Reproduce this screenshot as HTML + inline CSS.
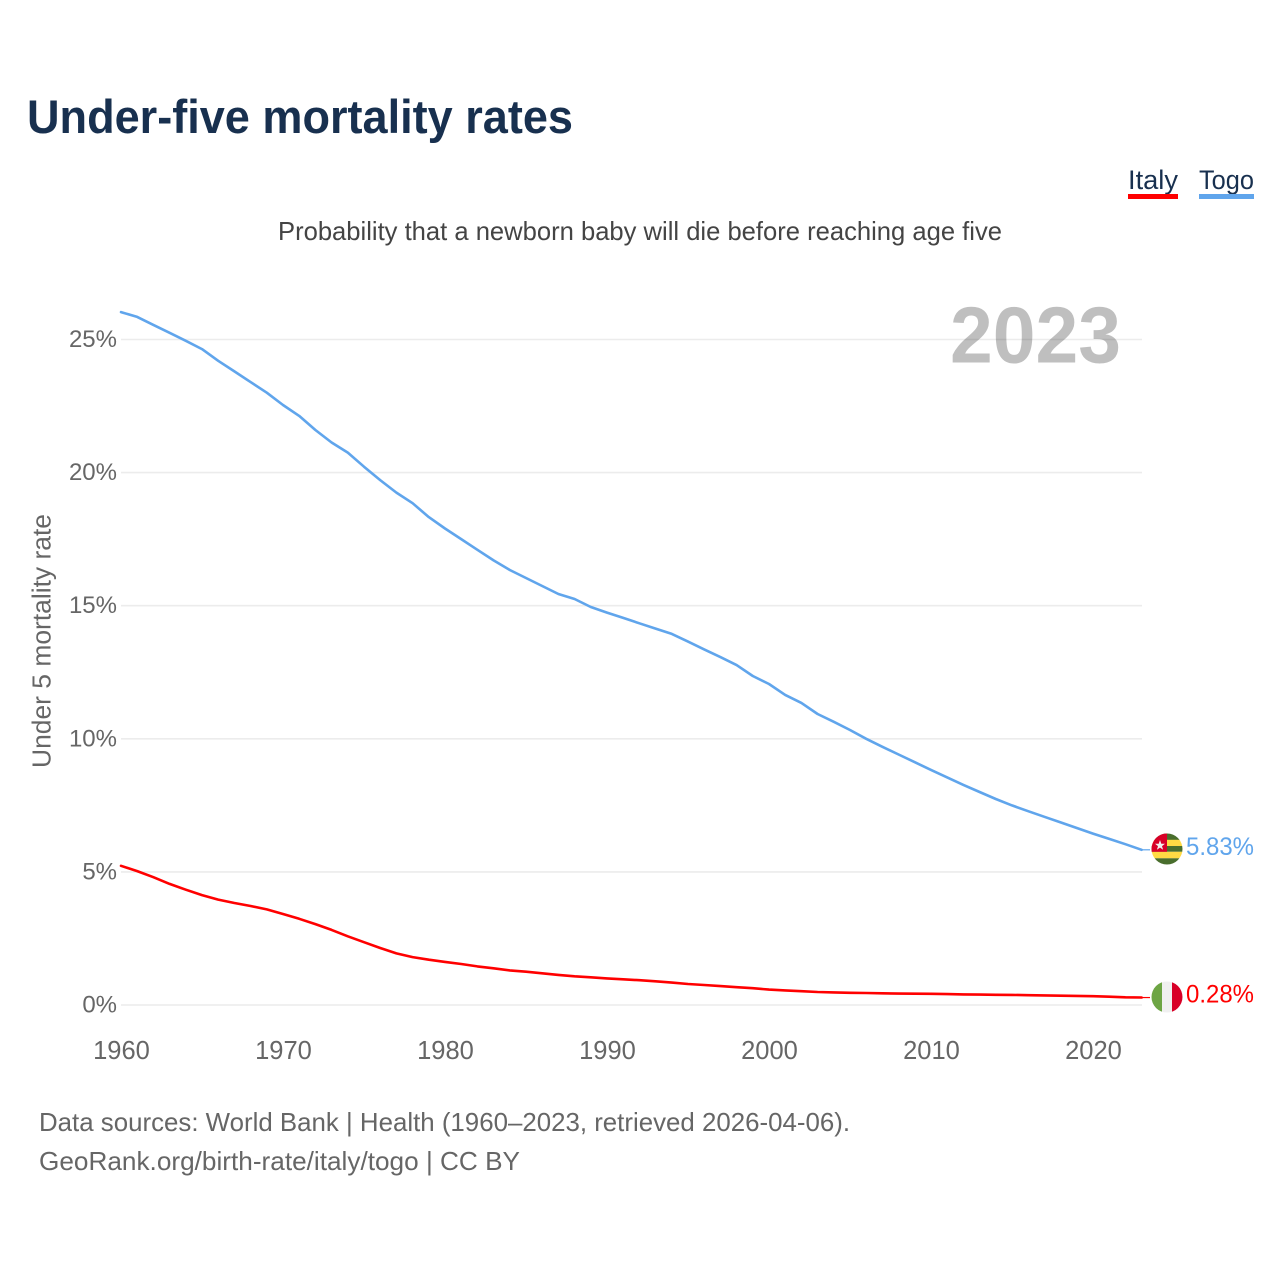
<!DOCTYPE html>
<html lang="en">
<head>
<meta charset="utf-8">
<title>Under-five mortality rates</title>
<style>
html,body{margin:0;padding:0;background:#fff;}
svg{display:block;font-family:"Liberation Sans",sans-serif;}
</style>
</head>
<body>
<svg id="chart" width="1280" height="1280" viewBox="0 0 1280 1280" xmlns="http://www.w3.org/2000/svg">
  <defs>
    <clipPath id="flag-clip-togo"><circle cx="1167" cy="849" r="15.5"></circle></clipPath>
    <clipPath id="flag-clip-italy"><circle cx="1167" cy="997" r="15.5"></circle></clipPath>
  </defs>
  <rect x="0" y="0" width="1280" height="1280" fill="#ffffff"></rect>
  <text x="27" y="133" font-size="47" font-weight="700" fill="#18304f" textLength="546" lengthAdjust="spacingAndGlyphs">Under-five mortality rates</text>
  <text x="278" y="240" font-size="26" fill="#444444" textLength="724" lengthAdjust="spacingAndGlyphs">Probability that a newborn baby will die before reaching age five</text>

  <g>
    <g>
      <text x="1128" y="189" font-size="27" fill="#18304f" textLength="50" lengthAdjust="spacingAndGlyphs">Italy</text>
      <rect x="1128" y="194" width="50" height="5" fill="#ff0000"></rect>
    </g>
    <g>
      <text x="1199" y="189" font-size="27" fill="#18304f" textLength="55" lengthAdjust="spacingAndGlyphs">Togo</text>
      <rect x="1199" y="194" width="55" height="5" fill="#60a5ec"></rect>
    </g>
  </g>

  <g id="grid"></g>
  <text x="950" y="362.5" font-size="80" font-weight="700" fill="#000000" fill-opacity="0.25" textLength="171" lengthAdjust="spacingAndGlyphs">2023</text>
  <g id="yticks"></g>
  <g id="xticks"></g>
  <text transform="translate(50.5,768) rotate(-90)" font-size="25.5" fill="#666666" textLength="254" lengthAdjust="spacingAndGlyphs">Under 5 mortality rate</text>
  <g id="series"></g>

  <g clip-path="url(#flag-clip-togo)">
    <rect x="1151" y="833" width="32" height="7" fill="#496e2d"></rect>
    <rect x="1151" y="839.8" width="32" height="6.2" fill="#ffda44"></rect>
    <rect x="1151" y="846" width="32" height="5.8" fill="#496e2d"></rect>
    <rect x="1151" y="851.8" width="32" height="6.5" fill="#ffda44"></rect>
    <rect x="1151" y="858.3" width="32" height="7" fill="#496e2d"></rect>
    <rect x="1151" y="833" width="16" height="18.8" fill="#d80027"></rect>
    <polygon points="1160,840 1161.3,843.8 1165,843.8 1162,846.1 1163.1,849.8 1160,847.6 1156.9,849.8 1158,846.1 1155,843.8 1158.7,843.8" fill="#f0f0f0"></polygon>
  </g>
  <g clip-path="url(#flag-clip-italy)">
    <rect x="1151" y="981" width="11" height="32" fill="#6da544"></rect>
    <rect x="1162" y="981" width="10" height="32" fill="#f0f0f0"></rect>
    <rect x="1172" y="981" width="11" height="32" fill="#d80027"></rect>
  </g>

  <g id="end-labels"></g>

  <text x="39" y="1131" font-size="26" fill="#666666" textLength="811" lengthAdjust="spacingAndGlyphs">Data sources: World Bank | Health (1960–2023, retrieved 2026-04-06).</text>
  <text x="39" y="1170" font-size="26" fill="#666666" textLength="481" lengthAdjust="spacingAndGlyphs">GeoRank.org/birth-rate/italy/togo | CC BY</text>
</svg>
<script>
const startYear = 1960;
const yTickValues = [0, 5, 10, 15, 20, 25];
const xTickYears = [1960, 1970, 1980, 1990, 2000, 2010, 2020];
const togoValues = [
  26.03, 25.85, 25.55, 25.25, 24.95, 24.64, 24.2, 23.8, 23.4, 23.0,
  22.54, 22.13, 21.6, 21.13, 20.75, 20.22, 19.72, 19.25, 18.85, 18.33,
  17.9, 17.5, 17.1, 16.7, 16.34, 16.04, 15.74, 15.44, 15.25, 14.95,
  14.74, 14.54, 14.34, 14.14, 13.94, 13.65, 13.36, 13.07, 12.77, 12.36,
  12.06, 11.65, 11.35, 10.93, 10.64, 10.33, 10.0, 9.7, 9.41, 9.12,
  8.83, 8.55, 8.27, 8.0, 7.74, 7.5, 7.28, 7.07, 6.86, 6.65,
  6.44, 6.24, 6.04, 5.83
];
const italyValues = [
  5.23, 5.03, 4.8, 4.55, 4.33, 4.13, 3.96, 3.83, 3.72, 3.59,
  3.42, 3.24, 3.04, 2.82, 2.58, 2.36, 2.14, 1.94, 1.8, 1.7,
  1.62, 1.54, 1.45, 1.38, 1.3, 1.25, 1.19, 1.13, 1.08, 1.04,
  1.0, 0.965, 0.93, 0.89, 0.84, 0.79, 0.75, 0.71, 0.67, 0.63,
  0.58, 0.55, 0.52, 0.49, 0.475, 0.46, 0.45, 0.44, 0.43, 0.425,
  0.42, 0.41, 0.4, 0.39, 0.385, 0.38, 0.37, 0.36, 0.35, 0.34,
  0.33, 0.31, 0.29, 0.28
];

const svgNS = 'http://www.w3.org/2000/svg';
function xScale(year) { return 121 + (year - 1960) * 16.2; }
function yScale(value) { return 1005 - value * 26.62; }
function make(tag, parentId, attrs, text) {
  const el = document.createElementNS(svgNS, tag);
  for (const k in attrs) el.setAttribute(k, attrs[k]);
  if (text !== undefined) el.textContent = text;
  document.getElementById(parentId).appendChild(el);
  return el;
}

yTickValues.forEach(function (v) {
  const grid = make('line', 'grid', { x1: 121, x2: 1142, y1: yScale(v), y2: yScale(v), stroke: '#ececec', 'stroke-width': 1.6 });
  
  
  const label = make('text', 'yticks', { x: 117, y: yScale(v) + 7.5, 'text-anchor': 'end', 'font-size': 24, fill: '#666666' }, v + '%');
  
  
});

xTickYears.forEach(function (yr) {
  const label = make('text', 'xticks', { x: xScale(yr) + 0.5, y: 1059, 'text-anchor': 'middle', 'font-size': 25.5, fill: '#666666' }, String(yr));
  
  
});

function drawSeries(values, color, key) {
  const pts = values.map(function (v, i) { return xScale(startYear + i).toFixed(1) + ',' + yScale(v).toFixed(1); });
  const line = make('polyline', 'series', { points: pts.join(' '), fill: 'none', stroke: color, 'stroke-width': 2.6, 'stroke-linejoin': 'round', 'stroke-linecap': 'round' });
  
  
  const last = values[values.length - 1];
  const endX = xScale(startYear + values.length - 1);
  const lead = make('line', 'series', { x1: endX, x2: 1150, y1: yScale(last), y2: yScale(last), stroke: color, 'stroke-width': 1.2 });
  
  
  const label = make('text', 'end-labels', { x: 1186, y: yScale(last) + 5, 'font-size': 25, fill: color, textLength: 68, lengthAdjust: 'spacingAndGlyphs' }, last.toFixed(2) + '%');
  
  
}
drawSeries(italyValues, '#ff0000', 'italy');
drawSeries(togoValues, '#60a5ec', 'togo');
</script>
</body>
</html>
